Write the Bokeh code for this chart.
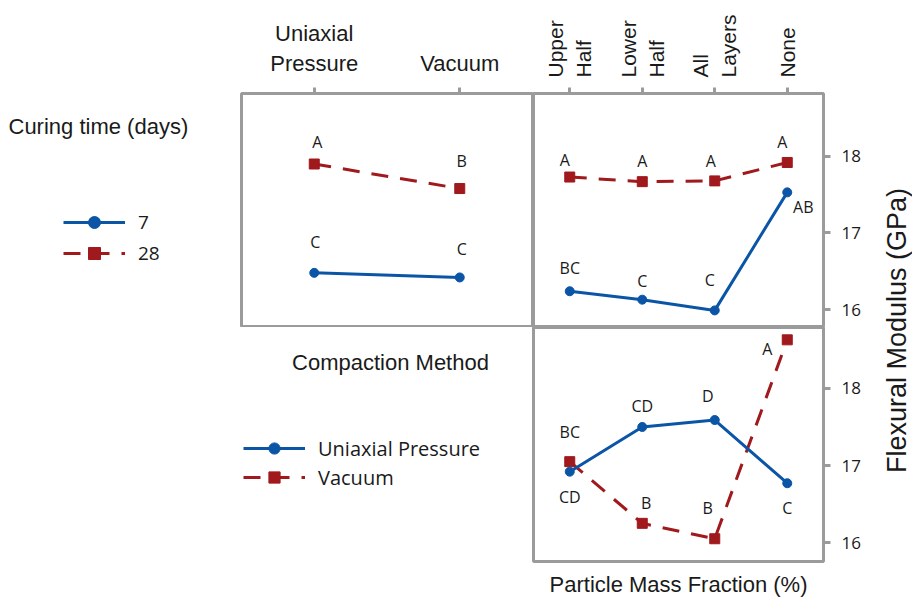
from math import pi

from bokeh.core.properties import value
from bokeh.embed import file_html
from bokeh.layouts import column, row
from bokeh.models import (ColumnDataSource, FactorRange, FixedTicker, Label,
                          Legend, LegendItem, Range1d, Title)
from bokeh.plotting import figure
from bokeh.resources import INLINE

# ---- factor levels (as shown on the axes) ----
compaction = ["Uniaxial\nPressure", "Vacuum"]
compaction_names = ["Uniaxial Pressure", "Vacuum"]
fraction = ["Upper\nHalf", "Lower\nHalf", "All\nLayers", "None"]
curing = ["7", "28"]
y_ticks = [16, 17, 18]

# ---- mean flexural modulus (GPa) and Tukey groupings ----
# curing time x compaction method
cure7_by_method = [16.48, 16.42]
cure28_by_method = [17.90, 17.58]
cure7_by_method_grp = ["C", "C"]
cure28_by_method_grp = ["A", "B"]

# curing time x particle mass fraction
cure7_by_fraction = [16.24, 16.13, 15.99, 17.53]
cure28_by_fraction = [17.73, 17.67, 17.68, 17.92]
cure7_by_fraction_grp = ["BC", "C", "C", "AB"]
cure28_by_fraction_grp = ["A", "A", "A", "A"]

# compaction method x particle mass fraction
uniaxial_by_fraction = [16.92, 17.50, 17.59, 16.77]
vacuum_by_fraction = [17.05, 16.25, 16.05, 18.63]
uniaxial_by_fraction_grp = ["CD", "CD", "D", "C"]
vacuum_by_fraction_grp = ["BC", "B", "B", "A"]

# ---- styling ----
BLUE = "#0b55a6"
RED = "#a0191c"
FRAME = "#9b9b9b"
INK = "#1a1a1a"
ARIAL = "Liberation Sans"
CAL = "Open Sans"
DASH = "17 12"

# pixel nudges for the grouping letters (dx, dy; dy < 0 is up)
tl_off = {"b": ([1, 2], [-31, -28]), "r": ([3, 2], [-22, -28])}
tr_off = {"b": ([0, 0, -5, 16], [-23, -19, -30, 15]),
          "r": ([-5, 0, -4, -5], [-17, -21, -20, -20])}
br_off = {"b": ([0, 0, -7, 0], [25, -21, -24, 25]),
          "r": ([0, 4, -7, -20], [-30, -20, -31, 9])}


def base(**kw):
    p = figure(toolbar_location=None, output_backend="svg", title=None, **kw)
    p.xgrid.visible = False
    p.ygrid.visible = False
    p.background_fill_color = "white"
    p.border_fill_color = "white"
    return p


def framed(p):
    p.outline_line_color = FRAME
    p.outline_line_width = 3
    p.outline_line_alpha = 1.0


def style_top_axis(ax, rotated):
    ax.axis_line_color = None
    ax.major_tick_line_color = FRAME
    ax.major_tick_line_width = 3
    ax.major_tick_out = 6
    ax.major_tick_in = 0
    ax.major_label_text_font = ARIAL
    ax.major_label_text_color = INK
    if rotated:
        ax.major_label_orientation = "vertical"
        ax.major_label_text_font_size = "21px"
        ax.major_label_standoff = 10
    else:
        ax.major_label_text_font_size = "22px"
        ax.major_label_standoff = 12


def style_right_axis(ax):
    ax.ticker = FixedTicker(ticks=y_ticks)
    ax.axis_line_color = None
    ax.major_tick_line_color = FRAME
    ax.major_tick_line_width = 3
    ax.major_tick_out = 7
    ax.major_tick_in = 0
    ax.minor_tick_line_color = None
    ax.major_label_standoff = 11
    ax.major_label_text_font = CAL
    ax.major_label_text_font_size = "17px"
    ax.major_label_text_color = INK


def series(p, factors, vals, groups, off, color, dashed, marker):
    src = ColumnDataSource(dict(x=factors, y=vals, grp=groups, dx=off[0], dy=off[1]))
    p.line("x", "y", source=src, line_color=color, line_width=3,
           line_dash=DASH if dashed else "solid")
    p.scatter("x", "y", source=src, marker=marker, size=10 if marker == "square" else 9,
              fill_color=color, line_color=color)
    p.text("x", "y", text="grp", source=src, x_offset="dx", y_offset="dy",
           text_align="center", text_baseline="middle",
           text_font=value(CAL), text_font_size="16px", text_color=INK)


# ---- curing time x compaction method ----
tl = base(x_range=FactorRange(factors=compaction), y_range=Range1d(15.78, 18.82),
          width=303, height=327, min_border_left=11, min_border_right=1,
          min_border_top=93, min_border_bottom=1,
          x_axis_location="above", y_axis_location=None)
framed(tl)
style_top_axis(tl.xaxis[0], rotated=False)
series(tl, compaction, cure28_by_method, cure28_by_method_grp, tl_off["r"], RED, True, "square")
series(tl, compaction, cure7_by_method, cure7_by_method_grp, tl_off["b"], BLUE, False, "circle")

# ---- curing time x particle mass fraction ----
tr = base(x_range=FactorRange(factors=fraction), y_range=Range1d(15.78, 18.82),
          width=337, height=327, min_border_left=0, min_border_right=47,
          min_border_top=93, min_border_bottom=1,
          x_axis_location="above", y_axis_location="right")
framed(tr)
style_top_axis(tr.xaxis[0], rotated=True)
style_right_axis(tr.yaxis[0])
series(tr, fraction, cure28_by_fraction, cure28_by_fraction_grp, tr_off["r"], RED, True, "square")
series(tr, fraction, cure7_by_fraction, cure7_by_fraction_grp, tr_off["b"], BLUE, False, "circle")

# ---- compaction method x particle mass fraction ----
br = base(x_range=FactorRange(factors=fraction), y_range=Range1d(15.755, 18.79),
          width=339, height=278, min_border_left=2, min_border_right=47,
          min_border_top=0, min_border_bottom=44,
          x_axis_location=None, y_axis_location="right")
framed(br)
style_right_axis(br.yaxis[0])
br.add_layout(Title(text="Particle Mass Fraction (%)", align="center", standoff=17,
                    offset=0, text_font=ARIAL, text_font_size="22px",
                    text_font_style="normal", text_color=INK), "below")
series(br, fraction, vacuum_by_fraction, vacuum_by_fraction_grp, br_off["r"], RED, True, "square")
series(br, fraction, uniaxial_by_fraction, uniaxial_by_fraction_grp, br_off["b"], BLUE, False, "circle")


# ---- legend panels (their frames line up with the neighbouring panel) ----
def legend_panel(width, height, title, title_xy, title_align, labels, loc, gh, font_size):
    p = base(x_range=Range1d(0, 1), y_range=Range1d(0, 1), width=width, height=height,
             min_border=0, x_axis_location=None, y_axis_location=None)
    p.outline_line_color = None
    items = []
    nan = [float("nan")]
    for lab, color, dashed, marker in zip(labels, [BLUE, RED], [False, True], ["circle", "square"]):
        ln = p.line(x=nan, y=nan, line_color=color, line_width=3,
                    line_dash=DASH if dashed else "solid")
        mk = p.scatter(x=nan, y=nan, marker=marker, size=12, fill_color=color, line_color=color)
        items.append(LegendItem(label=lab, renderers=[ln, mk]))
    leg = Legend(items=items, location=loc, orientation="vertical",
                 glyph_width=62, glyph_height=gh, label_height=gh, spacing=1,
                 padding=0, margin=0, label_standoff=13,
                 label_text_font=CAL, label_text_font_size=font_size,
                 label_text_color=INK, border_line_color=None,
                 background_fill_alpha=0)
    p.add_layout(leg)
    p.add_layout(Label(x=title_xy[0], y=title_xy[1], x_units="screen", y_units="screen",
                       text=title, text_align=title_align, text_baseline="middle",
                       text_font=ARIAL, text_font_size="22px", text_color=INK))
    return p


curing_leg = legend_panel(230, 327, "Curing time (days)", (8, 200), "left",
                          curing, (63, 58), 30, "19px")
method_leg = legend_panel(531, 278, "Compaction Method", (390, 199), "center",
                          compaction_names, (243, 70), 28, "20px")

# ---- shared y label ----
ylab = base(x_range=Range1d(0, 1), y_range=Range1d(0, 1), width=42, height=605,
            min_border=0, x_axis_location=None, y_axis_location=None)
ylab.outline_line_color = None
ylab.add_layout(Label(x=26, y=275, x_units="screen", y_units="screen",
                      text="Flexural Modulus (GPa)", angle=pi / 2,
                      text_align="center", text_baseline="middle",
                      text_font=ARIAL, text_font_size="27px", text_color=INK))

layout = row(column(row(curing_leg, tl, tr), row(method_leg, br)), ylab)

open("out.html", "w").write(file_html(layout, INLINE))
